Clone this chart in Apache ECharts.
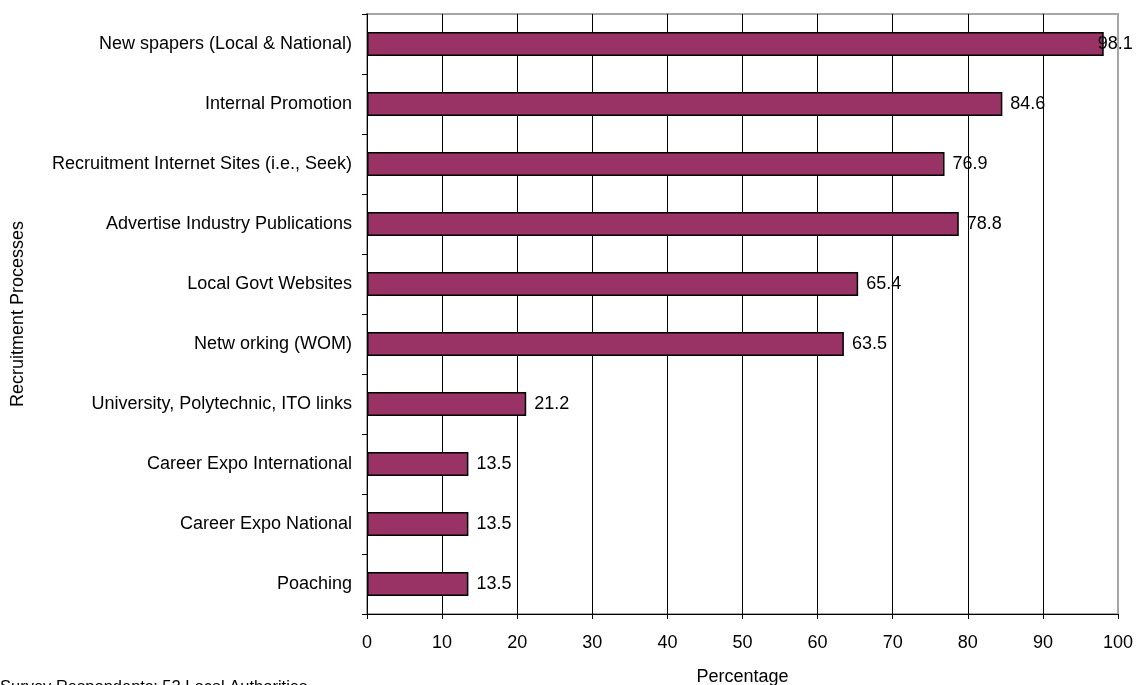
<!DOCTYPE html>
<html>
<head>
<meta charset="utf-8">
<script src="https://cdn.jsdelivr.net/npm/echarts@6/dist/echarts.min.js"></script>
<style>
  html, body { margin: 0; padding: 0; background: #ffffff; }
  #chart { width: 1136px; height: 685px; }
</style>
</head>
<body>
<div id="chart"></div>
<script>
// Recruitment processes, listed top to bottom
const categories = [
  'New spapers (Local & National)',
  'Internal Promotion',
  'Recruitment Internet Sites (i.e., Seek)',
  'Advertise Industry Publications',
  'Local Govt Websites',
  'Netw orking (WOM)',
  'University, Polytechnic, ITO links',
  'Career Expo International',
  'Career Expo National',
  'Poaching'
];

// Share of respondents using each process (%)
const percentages = [98.1, 84.6, 76.9, 78.8, 65.4, 63.5, 21.2, 13.5, 13.5, 13.5];

// Percentage axis ticks
const xMin = 0;
const xMax = 100;
const xStep = 10;

const FONT = '"Liberation Sans", Arial, sans-serif';

const chart = echarts.init(document.getElementById('chart'), null, { renderer: 'canvas' });

const barData = percentages.map(function (v, i) {
  const item = { value: v };
  // the longest bar's label is pulled back inside the plot edge
  if (i === 0) item.label = { offset: [-14, 0] };
  return item;
});

chart.setOption({
  animation: false,
  backgroundColor: '#ffffff',
  textStyle: { fontFamily: FONT },
  grid: {
    left: 367,
    top: 14,
    right: 18,
    bottom: 71,
    outerBoundsMode: 'none',
    containLabel: false,
    show: true,
    borderColor: '#a6a6a6',
    borderWidth: 2,
    backgroundColor: 'transparent'
  },
  xAxis: {
    type: 'value',
    min: xMin,
    max: xMax,
    interval: xStep,
    name: 'Percentage',
    nameLocation: 'middle',
    nameGap: 54,
    nameTextStyle: { color: '#000', fontSize: 18, fontFamily: FONT },
    axisLine: { show: true, lineStyle: { color: '#000', width: 1 } },
    axisTick: { show: true, length: 5, lineStyle: { color: '#000' } },
    axisLabel: { color: '#000', fontSize: 18, fontFamily: FONT, margin: 20 },
    splitLine: { show: true, showMaxLine: false, lineStyle: { color: '#000', width: 1 } }
  },
  yAxis: {
    type: 'category',
    data: categories,
    inverse: true,
    name: 'Recruitment Processes',
    nameLocation: 'middle',
    nameGap: 340,
    nameRotate: 90,
    nameTextStyle: { color: '#000', fontSize: 18, fontFamily: FONT },
    axisLine: { show: true, lineStyle: { color: '#000', width: 1 } },
    axisTick: { show: true, length: 5, lineStyle: { color: '#000' } },
    axisLabel: { color: '#000', fontSize: 18, fontFamily: FONT, margin: 15 },
    splitLine: { show: false }
  },
  series: [{
    type: 'bar',
    data: barData,
    barWidth: 24,
    itemStyle: { color: '#993366', borderColor: '#000', borderWidth: 1.5 },
    label: {
      show: true,
      position: 'right',
      distance: 8,
      color: '#000',
      fontSize: 18,
      fontFamily: FONT
    }
  }],
  graphic: [{
    type: 'text',
    left: 0,
    top: 679,
    style: {
      text: 'Survey Respondents: 52 Local Authorities',
      fill: '#000',
      font: '16.5px ' + FONT
    }
  }]
});
</script>
</body>
</html>
